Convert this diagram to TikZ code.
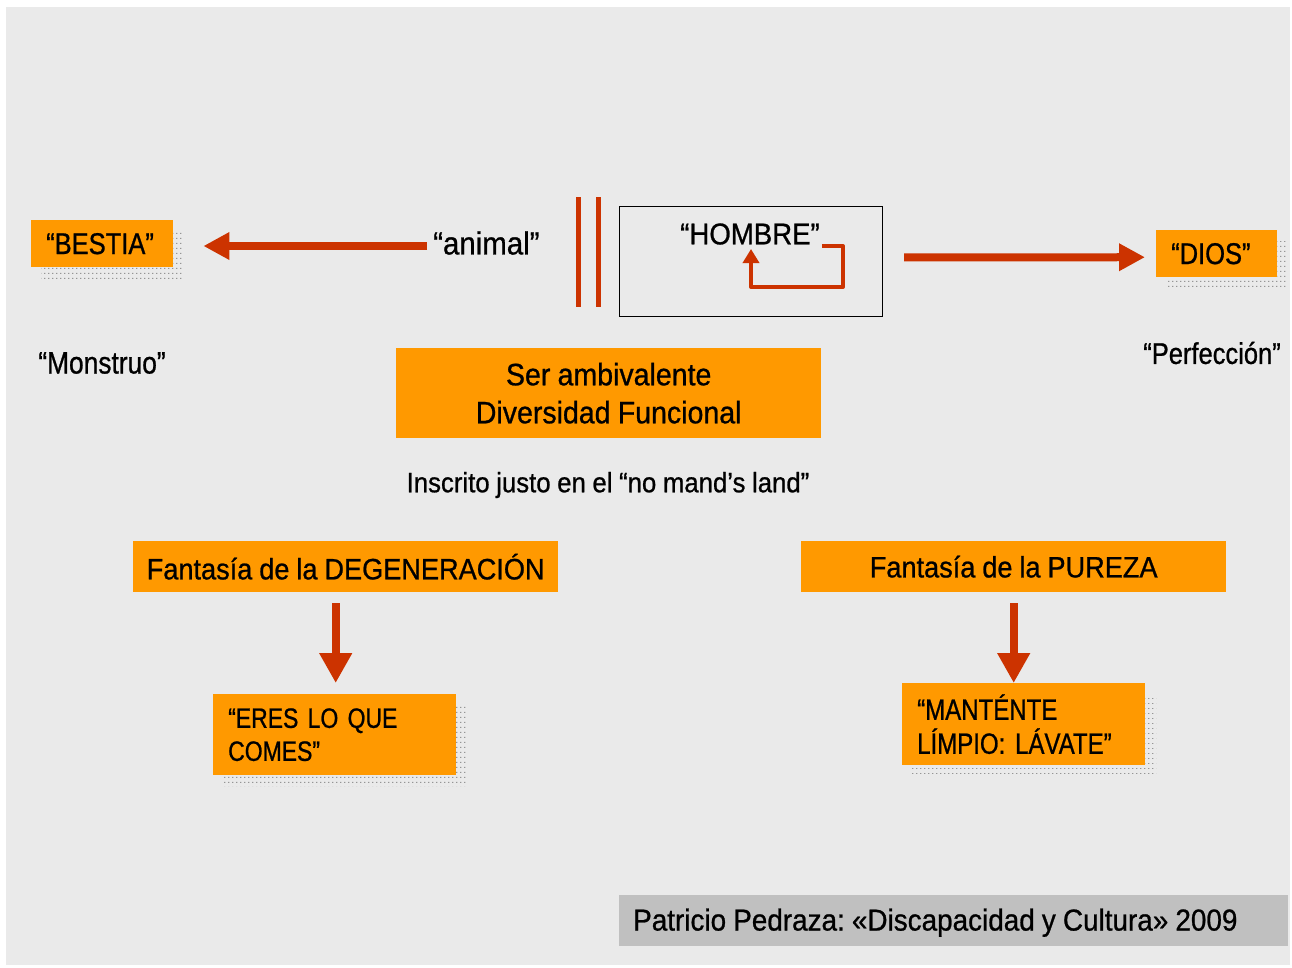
\documentclass[tikz,border=0pt]{standalone}
\usepackage{fontspec}
\setmainfont{Liberation Sans}[FakeStretch=0.85, WordSpace=0.85, FakeBold=0.8]
\newfontfamily\midfont{Liberation Sans}[FakeStretch=0.92, WordSpace=0.92, FakeBold=0.8]
\newfontfamily\boxfont{Liberation Sans}[FakeStretch=0.82, WordSpace=0.7, FakeBold=0.8]
\usetikzlibrary{arrows.meta,patterns,calc}
\definecolor{bg}{HTML}{EAEAEA}
\definecolor{org}{HTML}{FF9900}
\definecolor{rd}{HTML}{CC3300}
\definecolor{foot}{HTML}{C0C0C0}
\definecolor{dotgray}{HTML}{959595}
\pgfdeclarepatternformonly{shadowdots}{\pgfpointorigin}{\pgfpoint{4pt}{4.5pt}}{\pgfpoint{4pt}{4.5pt}}{%
  \pgfpathrectangle{\pgfpointorigin}{\pgfpoint{1.6pt}{1.1pt}}\pgfusepath{fill}}
\begin{document}
\frenchspacing
\begin{tikzpicture}[x=1pt,y=-1pt,
  obox/.style={fill=org, draw=none, inner sep=0pt},
  lefttext/.style={align=left, inner xsep=15pt, inner ysep=0pt},
  shadowbox/.style={pattern=shadowdots, pattern color=dotgray},
  bigfont/.style={font=\fontsize{30}{33}\selectfont},
  plain/.style={inner sep=0pt, bigfont},
  bigarrow/.style={draw=rd, line width=8pt, -{Triangle[length=26pt,width=26pt]}},
  downarrow/.style={draw=rd, line width=8pt, -{Triangle[length=30pt,width=31pt]}},
  looparrow/.style={draw=rd, line width=4pt, line join=round, -{Triangle[length=14pt,width=16pt]}},
  bar/.style={draw=rd, line width=5pt}]
\useasboundingbox (0,0) rectangle (1292,967);
\fill[white] (0,0) rectangle (1292,967);
\fill[bg] (6,7) rectangle (1290,965);

% shadows
\fill[shadowbox] (41,231) rectangle (183,278);
\fill[shadowbox] (1166,241) rectangle (1287,288);
\fill[shadowbox] (223,706) rectangle (466,786);
\fill[shadowbox] (912,695) rectangle (1156,776);

% BESTIA
\node[obox, lefttext, bigfont, anchor=north west, minimum width=142pt, minimum height=47pt, text width=112pt, inner xsep=15pt] (bestia) at (31,220) {“BESTIA”};
% DIOS
\node[obox, lefttext, bigfont, anchor=north west, minimum width=121pt, minimum height=47pt, text width=91pt] (dios) at (1156,230) {“DIOS”};

% animal
\node[inner sep=0pt, anchor=west, font=\midfont\fontsize{32}{35}\selectfont] (animal) at (433,243) {“animal”};
\coordinate (astart) at ([xshift=-6pt,yshift=-3pt]animal.west);
\draw[bigarrow, shorten >=30pt] (astart) -- (astart -| bestia.east);

% bars
\draw[bar] (578,197) -- (578,307);
\draw[bar] (598,197) -- (598,307);

% HOMBRE
\node[draw=black, line width=1pt, inner sep=0pt, anchor=north west, minimum width=263pt, minimum height=110pt] (hombre) at (619,206) {};
\node[inner sep=0pt, font=\midfont\fontsize{30}{33}\selectfont] (hombretxt) at (750,234) {“HOMBRE”};
\draw[looparrow] ([xshift=2pt,yshift=-12pt]hombretxt.east) -| ++(21,41) -| ([xshift=1pt,yshift=-15pt]hombretxt.center);

\draw[bigarrow, shorten <=21pt, shorten >=11pt] ([yshift=4pt]hombre.east) -- ([yshift=-3.5pt]dios.west);

% Monstruo / Perfeccion
\node[inner sep=0pt, font=\fontsize{31}{34}\selectfont] (monstruo) at (102,363) {“Monstruo”};
\node[plain] (perf) at (1212,353) {“Perfección”};

% Ser ambivalente
\node[obox, align=center, anchor=north west, minimum width=425pt, minimum height=90pt, font=\midfont\fontsize{31}{38}\selectfont] (ser) at (396,348) {Ser ambivalente\\Diversidad Funcional};

% Inscrito
\node[inner sep=0pt, font=\midfont\fontsize{28}{30}\selectfont] (inscrito) at (608,485) {Inscrito justo en el “no mand’s land”};

% Fantasias
\node[obox, anchor=north west, minimum width=425pt, minimum height=51pt, font=\midfont\fontsize{29.5}{33}\selectfont] (deg) at (133,541) {Fantasía de la DEGENERACIÓN};
\node[obox, anchor=north west, minimum width=425pt, minimum height=51pt, font=\midfont\fontsize{29.5}{33}\selectfont] (pur) at (801,541) {Fantasía de la PUREZA};

% lower boxes
\node[obox, lefttext, font=\boxfont\fontsize{28}{33}\selectfont, anchor=north west, minimum width=243pt, minimum height=81pt, text width=213pt] (eres) at (213,694) {“ERES LO QUE\\COMES”};
\node[obox, lefttext, font=\boxfont\fontsize{29.3}{34}\selectfont, anchor=north west, minimum width=243pt, minimum height=82pt, text width=213pt] (mant) at (902,683) {“MANTÉNTE\\LÍMPIO: LÁVATE”};

\draw[downarrow, shorten <=11pt, shorten >=11pt] ([xshift=-10pt]deg.south) -- ([xshift=-10pt]deg.south |- eres.north);
\draw[downarrow, shorten <=11pt] (pur.south) -- (pur.south |- mant.north);

% footer
\node[fill=foot, inner sep=0pt, anchor=north west, minimum width=669pt, minimum height=51pt] (foot) at (619,895) {};
\node[inner sep=0pt, anchor=west, font=\midfont\fontsize{30.3}{34}\selectfont] (foottxt) at ([xshift=14pt,yshift=-2pt]foot.west) {Patricio Pedraza: «Discapacidad y Cultura» 2009};
\end{tikzpicture}
\end{document}
